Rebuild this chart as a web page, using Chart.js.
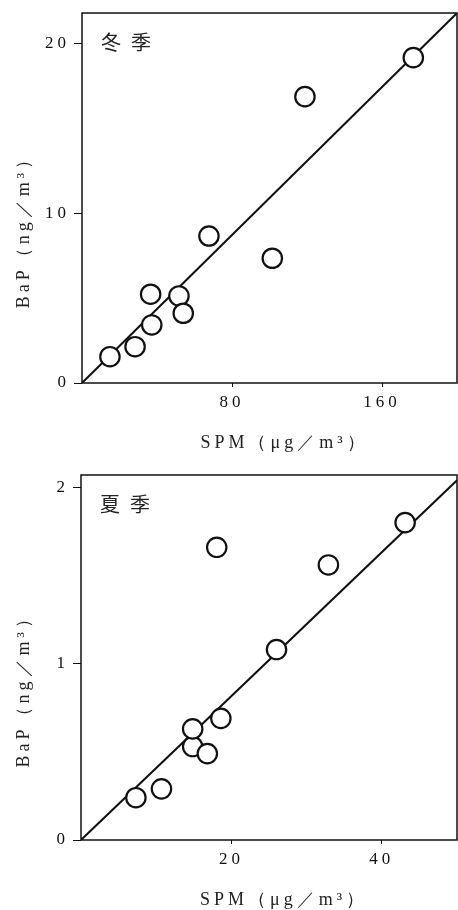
<!DOCTYPE html>
<html>
<head>
<meta charset="utf-8">
<title>BaP vs SPM</title>
<script src="https://cdn.jsdelivr.net/npm/chart.js@4.4.0/dist/chart.umd.min.js"></script>
<style>
  body { margin: 0; background: #fff; }
  canvas { display: block; }
</style>
</head>
<body>
<canvas id="winterChart" width="458" height="460"></canvas>
<canvas id="summerChart" width="458" height="450"></canvas>
<script>
// ---- winter (冬季) ----
const winterSpm = [14.9, 28.3, 37.2, 36.6, 51.7, 54.0, 67.7, 101.5, 118.9, 176.7];
const winterBap = [1.55, 2.14, 3.42, 5.23, 5.13, 4.11, 8.66, 7.35, 16.87, 19.17];
const winterFitSpm = [0, 200];
const winterFitBap = [0, 21.8];
const winterXTicks = [80, 160];
const winterYTicks = [0, 10, 20];

// ---- summer (夏季) ----
const summerSpm = [7.3, 10.7, 14.85, 14.85, 16.8, 18.6, 18.05, 26.0, 32.9, 43.1];
const summerBap = [0.24, 0.29, 0.53, 0.63, 0.49, 0.69, 1.66, 1.08, 1.56, 1.80];
const summerFitSpm = [0, 50];
const summerFitBap = [0, 2.04];
const summerXTicks = [20, 40];
const summerYTicks = [0, 1, 2];

const SERIF = "'Liberation Serif', 'DejaVu Serif', serif";
const INK = '#111';

/**
 * Frame, season label and axis titles
 */
const frameAndLabels = {
    id: 'frameAndLabels',
    beforeDraw(chart) {
        chart.ctx.letterSpacing = '4px';
    },
    afterDraw(chart, args, opts) {
        const { ctx, chartArea: a } = chart;
        ctx.save();
        ctx.strokeStyle = INK;
        ctx.lineWidth = 1.5;
        ctx.strokeRect(a.left, a.top, a.right - a.left, a.bottom - a.top);

        ctx.fillStyle = '#222';
        ctx.textBaseline = 'middle';

        // season label
        ctx.letterSpacing = '10px';
        ctx.font = "20px 'Noto Sans CJK JP', sans-serif";
        ctx.textAlign = 'left';
        ctx.fillText(opts.season, a.left + 19, a.top + 29);

        // x title
        ctx.letterSpacing = '4px';
        ctx.font = '18px ' + SERIF;
        ctx.textAlign = 'center';
        ctx.fillText('SPM（μg／m³）', a.left + (a.right - a.left) * 0.54, a.bottom + 60);

        // y title
        ctx.translate(24, a.top + (a.bottom - a.top) * 0.58);
        ctx.rotate(-Math.PI / 2);
        ctx.fillText('BaP（ng／m³）', 0, 0);
        ctx.restore();
        ctx.letterSpacing = '0px';
    }
};

function buildChart(canvasId, cfg) {
    const ctx = document.getElementById(canvasId);
    return new Chart(ctx, {
        type: 'scatter',
        data: {
            datasets: [{
                data: cfg.spm.map((x, i) => ({ x, y: cfg.bap[i] })),
                pointRadius: 9.7,
                pointHoverRadius: 9.7,
                borderWidth: 2.2,
                borderColor: INK,
                backgroundColor: '#fff'
            }, {
                data: cfg.fitSpm.map((x, i) => ({ x, y: cfg.fitBap[i] })),
                showLine: true,
                pointRadius: 0,
                borderWidth: 2,
                borderColor: INK
            }]
        },
        options: {
            responsive: false,
            animation: false,
            layout: {
                autoPadding: false,
                padding: { top: cfg.padTop, right: 1, left: 0, bottom: 0 }
            },
            plugins: {
                legend: { display: false },
                tooltip: { enabled: false },
                frameAndLabels: { season: cfg.season }
            },
            scales: {
                x: {
                    type: 'linear',
                    min: 0,
                    max: cfg.xMax,
                    afterBuildTicks: s => { s.ticks = cfg.xTicks.map(v => ({ value: v })); },
                    afterFit: s => {
                        s.height = cfg.xHeight;
                        s.paddingLeft = 0;
                        s.paddingRight = 0;
                    },
                    border: { display: false },
                    grid: { drawOnChartArea: false, drawTicks: true, tickLength: 4, color: INK },
                    ticks: { color: INK, padding: 5, font: { family: SERIF, size: 17 } }
                },
                y: {
                    type: 'linear',
                    min: 0,
                    max: cfg.yMax,
                    afterBuildTicks: s => { s.ticks = cfg.yTicks.map(v => ({ value: v })); },
                    afterFit: s => {
                        s.width = cfg.yWidth;
                        s.paddingTop = 0;
                        s.paddingBottom = 0;
                    },
                    border: { display: false },
                    grid: { drawOnChartArea: false, drawTicks: true, tickLength: 8, color: INK },
                    ticks: { color: INK, padding: 4, font: { family: SERIF, size: 17 } }
                }
            }
        },
        plugins: [frameAndLabels]
    });
}

buildChart('winterChart', {
    season: '冬季',
    spm: winterSpm, bap: winterBap,
    fitSpm: winterFitSpm, fitBap: winterFitBap,
    xTicks: winterXTicks, yTicks: winterYTicks,
    xMax: 200, yMax: 21.8,
    padTop: 13, yWidth: 82, xHeight: 77
});

buildChart('summerChart', {
    season: '夏季',
    spm: summerSpm, bap: summerBap,
    fitSpm: summerFitSpm, fitBap: summerFitBap,
    xTicks: summerXTicks, yTicks: summerYTicks,
    xMax: 50, yMax: 2.07,
    padTop: 15, yWidth: 81, xHeight: 70
});
</script>
</body>
</html>
